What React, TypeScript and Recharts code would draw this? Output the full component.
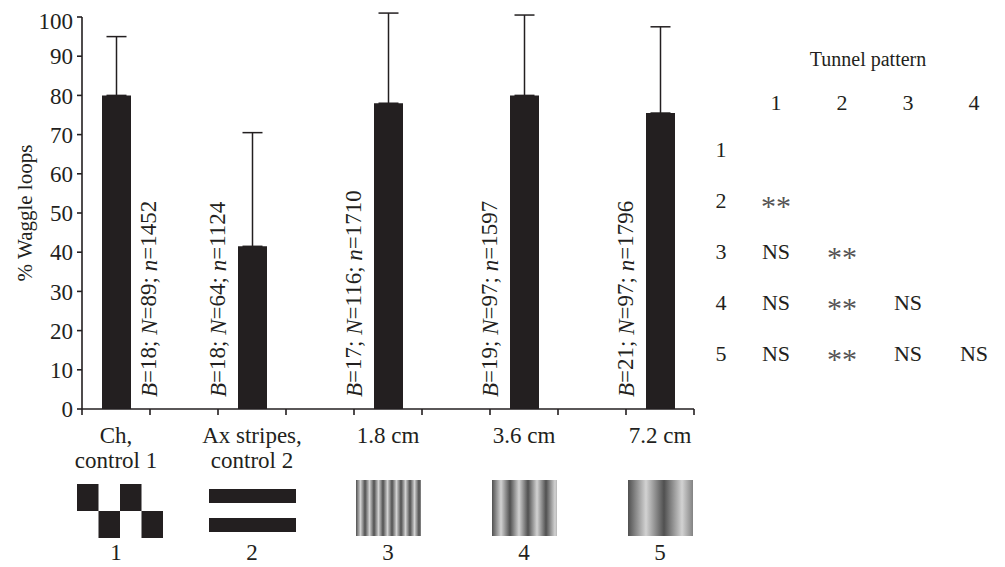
import { Bar, BarChart, ErrorBar, LabelList, XAxis, YAxis } from 'recharts'

const tunnelNames = [['Ch,', 'control 1'], ['Ax stripes,', 'control 2'], ['1.8 cm'], ['3.6 cm'], ['7.2 cm']]
const stripeCm = [0, 0, 1.8, 3.6, 7.2]
const waggle = [80, 41.5, 78, 80, 75.5]
const waggleSd = [15, 29, 23, 20.5, 22]
const bees = [18, 18, 17, 19, 21]
const dancesN = [89, 64, 116, 97, 97]
const loopsN = [1452, 1124, 1710, 1597, 1796]
const yTicks = [0, 10, 20, 30, 40, 50, 60, 70, 80, 90, 100]

const tableCols = [1, 2, 3, 4]
const tableRows = [1, 2, 3, 4, 5]
const significance = [[], ['**'], ['NS', '**'], ['NS', '**', 'NS'], ['NS', '**', 'NS', 'NS']]

const INK = '#231f20'
const FONT = '"Liberation Serif", "Times New Roman", serif'
const PLOT_W = 612

interface IRow {
	slot: string
	tunnel: number | null
	value: number | null
	err?: number[]
}

// bars sit in every other slot, empty slots between them
const rows: IRow[] = []
waggle.forEach((v, i) => {
	rows.push({ slot: `p${i}`, tunnel: i + 1, value: v, err: [0, waggleSd[i]] })
	if (i < waggle.length - 1) rows.push({ slot: `g${i}`, tunnel: null, value: null })
})
const band = PLOT_W / rows.length

const Pattern = ({ idx, cx, top }: { idx: number; cx: number; top: number }) => {
	if (idx === 0) {
		const w = 21.5, h = 27, x0 = cx + 4 - 2 * w
		return <g fill={INK}>
			<rect x={x0} y={top} width={w} height={h} />
			<rect x={x0 + 2 * w} y={top} width={w} height={h} />
			<rect x={x0 + w} y={top + h} width={w} height={h} />
			<rect x={x0 + 3 * w} y={top + h} width={w} height={h} />
		</g>
	}
	if (idx === 1) {
		return <g fill={INK}>
			<rect x={cx - 43} y={top + 5} width={87} height={14} />
			<rect x={cx - 43} y={top + 34} width={87} height={14} />
		</g>
	}
	const x0 = cx - 32
	const period = stripeCm[idx] * 5
	const id = `stripe-${idx}`
	return <g>
		<defs>
			<linearGradient id={id} gradientUnits="userSpaceOnUse" x1={x0} y1={0} x2={x0 + period} y2={0} spreadMethod="repeat">
				<stop offset="0" stopColor="#505050" />
				<stop offset="0.5" stopColor="#d2d2d2" />
				<stop offset="1" stopColor="#505050" />
			</linearGradient>
		</defs>
		<rect x={x0} y={top - 4} width={65} height={56} fill={`url(#${id})`} />
	</g>
}

const TunnelTick = (props: any) => {
	const { x, y, payload, index } = props
	const row = rows.find((r) => r.slot === payload.value)
	const isLast = index === rows.length - 1
	const marks = <g stroke={INK} strokeWidth={1.6}>
		<line x1={x - band / 2} x2={x - band / 2} y1={y} y2={y + 6} />
		{isLast && <line x1={x + band / 2} x2={x + band / 2} y1={y} y2={y + 6} />}
	</g>
	if (!row || row.tunnel == null) return marks
	const i = row.tunnel - 1
	const lines = tunnelNames[i]
	return <g fontFamily={FONT} fontSize={23} fill={INK}>
		{marks}
		{lines.map((t, k) => (
			<text key={k} x={x} y={y + 34 + k * 25} textAnchor="middle">{t}</text>
		))}
		<Pattern idx={i} cx={x} top={y + 75} />
		<text x={x} y={y + 151} textAnchor="middle">{i + 1}</text>
	</g>
}

const SampleLabel = (props: any) => {
	const { x, y, width, height, value } = props
	if (value == null) return null
	const i = value - 1
	const cx = x + width / 2 + (i === 0 ? 32 : -35)
	const by = y + height - 12
	return <text x={cx} y={by} transform={`rotate(-90, ${cx}, ${by})`} dominantBaseline="central"
		fontFamily={FONT} fontSize={23} fill={INK}>
		<tspan fontStyle="italic">B</tspan>={bees[i]}; <tspan fontStyle="italic">N</tspan>={dancesN[i]}; <tspan fontStyle="italic">n</tspan>={loopsN[i]}
	</text>
}

const App = () => {
	const tickStyle = { fontFamily: FONT, fontSize: 23, fill: INK }
	return <div style={{ position: 'relative', width: 989, height: 559, fontFamily: FONT }}>
		<BarChart width={720} height={559} data={rows} margin={{ top: 9, right: 34, bottom: 0, left: 0 }}>
			<XAxis dataKey="slot" tickLine={false} tickSize={0} tickMargin={0} stroke={INK} strokeWidth={1.6}
				interval={0} height={158} tick={<TunnelTick />} />
			<YAxis domain={[0, 100]} ticks={yTicks} allowDataOverflow width={74} tickSize={5} tickMargin={4}
				stroke={INK} strokeWidth={1.6} tick={tickStyle}
				label={({ viewBox }: any) => {
					const cx = viewBox.x + 17
					const cy = viewBox.y + viewBox.height / 2
					return <text x={cx} y={cy} transform={`rotate(-90, ${cx}, ${cy})`} textAnchor="middle"
						dominantBaseline="central" fontFamily={FONT} fontSize={21} fill={INK}>% Waggle loops</text>
				}} />
			<Bar dataKey="value" fill={INK} barSize={29} isAnimationActive={false}>
				<ErrorBar dataKey="err" width={10} stroke={INK} strokeWidth={1.5} />
				<LabelList dataKey="tunnel" content={<SampleLabel />} />
			</Bar>
		</BarChart>
		<svg width={989} height={559} style={{ position: 'absolute', left: 0, top: 0, pointerEvents: 'none' }}
			fontFamily={FONT} fontSize={22} fill={INK}>
			<text x={860} y={58} textAnchor="middle" fontSize={20}>Tunnel pattern</text>
			{tableCols.map((c, k) => (
				<text key={c} x={768 + k * 66} y={102} textAnchor="middle">{c}</text>
			))}
			{tableRows.map((r, ri) => (
				<g key={r}>
					<text x={713} y={149 + ri * 51} textAnchor="middle">{r}</text>
					{significance[ri].map((s, ci) => (
						s === '**'
							? <text key={ci} x={768 + ci * 66} y={149 + ri * 51} dy={8} textAnchor="middle"
								fontSize={30} fill="#555">{s}</text>
							: <text key={ci} x={768 + ci * 66} y={149 + ri * 51} textAnchor="middle">{s}</text>
					))}
				</g>
			))}
		</svg>
	</div>
}

export default App
